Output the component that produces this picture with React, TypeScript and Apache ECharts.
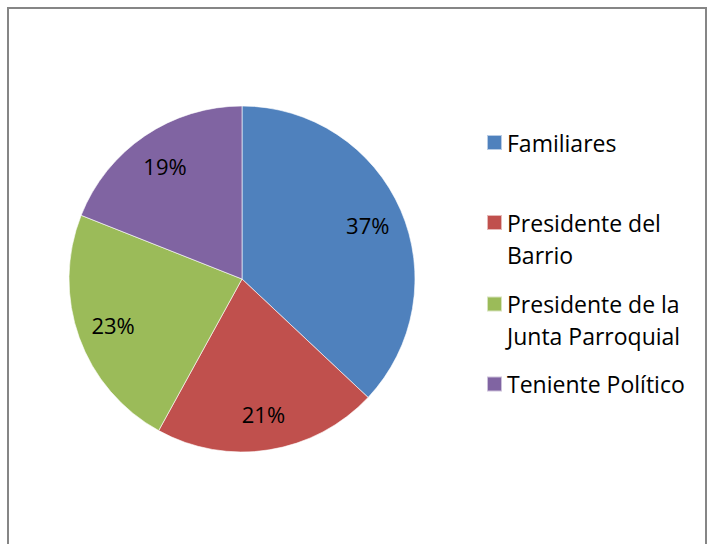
import React, { useEffect, useRef } from "react";
import * as echarts from "echarts";

const categories = [
  "Familiares",
  "Presidente del Barrio",
  "Presidente de la Junta Parroquial",
  "Teniente Político",
];
const legendLines = [
  ["Familiares"],
  ["Presidente del", "Barrio"],
  ["Presidente de la", "Junta Parroquial"],
  ["Teniente Político"],
];
const percentages = [37, 21, 23, 19];
const colors = ["#4F81BD", "#C0504D", "#9BBB59", "#8064A2"];

const FONT = "'Open Sans', 'Noto Sans', sans-serif";

export default function App() {
  const ref = useRef<HTMLDivElement>(null);
  useEffect(() => {
    if (!ref.current) return;
    const chart = echarts.init(ref.current, null, { renderer: "svg" });
    const data = categories.map((name, i) => ({
      name,
      value: percentages[i],
      itemStyle: { color: colors[i] },
    }));
    // centre y of each legend line
    const lineCenters = [[142.5], [222.5, 255], [304, 335.5], [384]];
    const legends: any[] = [];
    categories.forEach((name, i) => {
      legendLines[i].forEach((txt, j) => {
        legends.push({
          data: [name],
          orient: "vertical",
          left: 486,
          top: lineCenters[i][j] - 16,
          padding: 0,
          itemWidth: 15,
          itemHeight: 15,
          icon: "rect",
          selectedMode: false,
          itemStyle: j === 0 ? {} : { opacity: 0 },
          formatter: () => txt,
          textStyle: {
            fontFamily: FONT,
            fontSize: 23,
            color: "#000",
            lineHeight: 32,
          },
        });
      });
    });
    chart.setOption({
      animation: false,
      backgroundColor: "#fff",
      graphic: [
        {
          type: "rect",
          shape: { x: 8, y: 8, width: 698, height: 600 },
          style: { fill: "none", stroke: "#868686", lineWidth: 2 },
          silent: true,
        },
      ],
      legend: legends,
      series: [
        {
          type: "pie",
          center: [242, 279],
          radius: [0, 173],
          startAngle: 90,
          clockwise: true,
          silent: true,
          label: { show: false },
          labelLine: { show: false },
          itemStyle: { borderColor: "rgba(255,255,255,0.6)", borderWidth: 1 },
          data,
        },
        {
          type: "pie",
          center: [242, 279],
          radius: [110, 158],
          startAngle: 90,
          clockwise: true,
          silent: true,
          itemStyle: { color: "rgba(0,0,0,0)", borderWidth: 0 },
          label: {
            show: true,
            position: "inside",
            formatter: (p: any) => p.value + "%",
            fontFamily: FONT,
            fontSize: 22,
            color: "#000",
          },
          labelLine: { show: false },
          data: categories.map((name, i) => ({ name, value: percentages[i] })),
        },
      ],
    });
    return () => chart.dispose();
  }, []);
  return (
    <div
      ref={ref}
      style={{ position: "fixed", left: 0, top: 0, width: 708, height: 544 }}
    />
  );
}
